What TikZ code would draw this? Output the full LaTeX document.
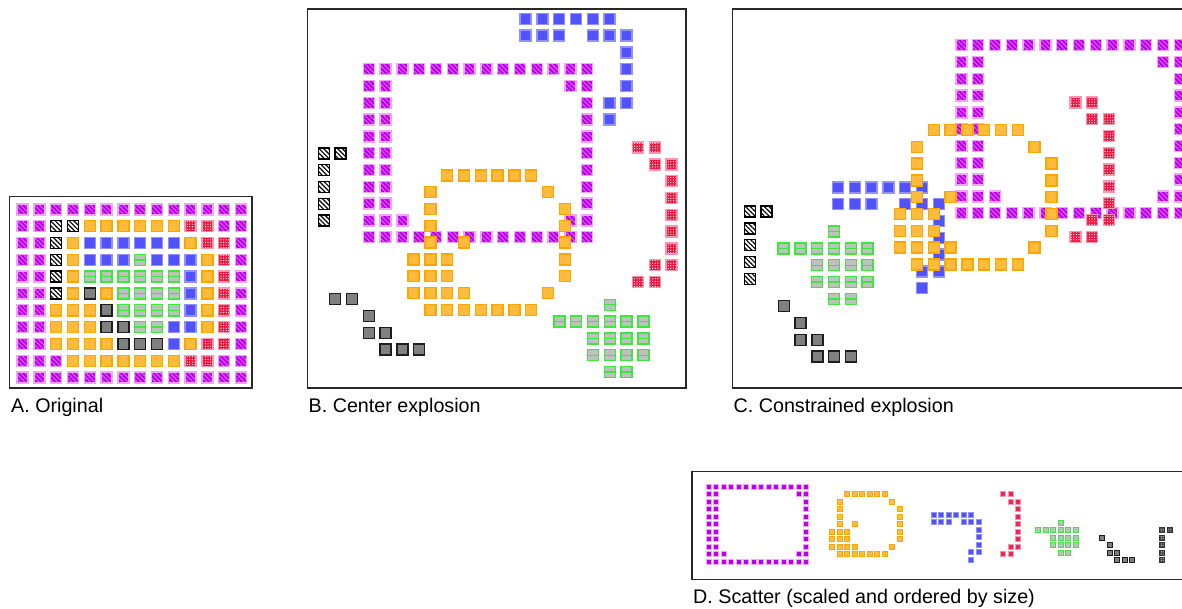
\documentclass[tikz,border=0pt]{standalone}
\usepackage{fontspec}
\setmainfont{Liberation Sans}
\usetikzlibrary{patterns.meta}
\definecolor{Pfill}{RGB}{185,0,235}
\definecolor{Pline}{RGB}{222,90,246}
\definecolor{Pedge}{RGB}{240,165,250}
\definecolor{Ofill}{RGB}{255,187,60}
\definecolor{Oedge}{RGB}{255,165,0}
\definecolor{Bfill}{RGB}{82,82,250}
\definecolor{Bedge}{RGB}{145,145,255}
\definecolor{Rfill}{RGB}{238,20,62}
\definecolor{Redge}{RGB}{250,150,175}
\definecolor{Gfill}{RGB}{192,192,192}
\definecolor{Gedge}{RGB}{60,232,60}
\definecolor{Dfill}{RGB}{128,128,128}
\definecolor{Dedge}{RGB}{30,30,30}
\definecolor{frame}{RGB}{40,40,40}
\tikzset{
  big/.style={line width=1.4pt},
  small/.style={line width=0.8pt},
  cellP/.style={draw=Pedge, preaction={fill=Pfill}, pattern={Lines[angle=-45,distance=3.3pt,line width=1.1pt]}, pattern color=Pline},
  cellPs/.style={draw=Pedge, fill=Pfill},
  cellK/.style={draw=black, preaction={fill=white}, pattern={Lines[angle=-45,distance=3.3pt,line width=1.2pt]}, pattern color=black},
  cellKs/.style={draw=black!80, preaction={fill=black!70}, pattern={Dots[distance=2.2pt,radius=0.45pt]}, pattern color=white},
  cellO/.style={draw=Oedge, fill=Ofill},
  cellB/.style={draw=Bedge, fill=Bfill},
  cellR/.style={draw=Redge, preaction={fill=Rfill}, pattern={Dots[distance=2.6pt,radius=0.65pt]}, pattern color=white},
  cellRs/.style={draw=Redge, preaction={fill=Rfill}, pattern={Dots[distance=2pt,radius=0.45pt]}, pattern color=white},
  cellG/.style={draw=Gedge, fill=Gfill},
  cellD/.style={draw=Dedge, fill=Dfill},
  gmid/.style={draw=Gedge, line width=1.3pt},
  panel/.style={draw=frame, line width=1.3pt},
  lab/.style={anchor=base west, inner sep=0pt, font=\fontsize{19.7}{23}\selectfont}
}
% style, origin x, origin y, pitch, half size, list
\newcommand\grp[6]{\foreach \ci/\ri in #6 {\path[#1] ({#2+\ci*#4-#5},{#3+\ri*#4-#5}) rectangle ({#2+\ci*#4+#5},{#3+\ri*#4+#5});}}
\newcommand\grpmid[6]{\foreach \ci/\ri in #6 {\path[#1] ({#2+\ci*#4-#5},{#3+\ri*#4}) -- ({#2+\ci*#4+#5},{#3+\ri*#4});}}
\def\Plist{0/0,1/0,2/0,3/0,4/0,5/0,6/0,7/0,8/0,9/0,10/0,11/0,12/0,13/0,%
0/10,1/10,2/10,3/10,4/10,5/10,6/10,7/10,8/10,9/10,10/10,11/10,12/10,13/10,%
0/1,1/1,12/1,13/1,0/2,1/2,13/2,0/3,1/3,13/3,0/4,1/4,13/4,0/5,1/5,13/5,%
0/6,1/6,13/6,0/7,1/7,13/7,0/8,1/8,13/8,0/9,1/9,2/9,12/9,13/9}
\def\Olist{4/1,5/1,6/1,7/1,8/1,9/1,3/2,10/2,3/3,11/3,3/4,11/4,3/5,5/5,11/5,%
2/6,3/6,4/6,11/6,2/7,3/7,4/7,11/7,2/8,3/8,4/8,5/8,10/8,3/9,4/9,5/9,6/9,7/9,8/9,9/9}
\def\Blist{4/2,5/2,6/2,7/2,8/2,9/2,4/3,5/3,6/3,8/3,9/3,10/3,10/4,10/5,10/6,9/7,10/7,9/8}
\def\Rlist{10/1,11/1,11/2,12/2,12/3,12/4,12/5,12/6,12/7,11/8,12/8,10/9,11/9}
\def\Glist{7/3,4/4,5/4,6/4,7/4,8/4,9/4,6/5,7/5,8/5,9/5,6/6,7/6,8/6,9/6,7/7,8/7}
\def\Dlist{4/5,5/6,5/7,6/7,6/8,7/8,8/8}
\def\DBlist{3/5,4/5,5/6,5/7,6/7,6/8,7/8,8/8}
\def\Klist{2/1,3/1,2/2,2/3,2/4,2/5}
\begin{document}
\begin{tikzpicture}[x=1pt,y=-1pt]
\useasboundingbox (0,0) rectangle (1182,609);
\clip (0,0) rectangle (1182,609);
\fill[white] (0,0) rectangle (1182,609);
% ---------- panel frames ----------
\draw[panel] (9.5,196.5) rectangle (252,388);
\draw[panel] (307.5,9) rectangle (686,388);
\draw[panel] (732.5,9) rectangle (1195,388);
\draw[panel] (692,471.5) rectangle (1195,579.5);
% ---------- A. Original ----------
\def\ax{22.5}\def\ay{209.5}
\grp{cellP,big}{\ax}{\ay}{16.8}{5.5}{\Plist}
\grp{cellK,big}{\ax}{\ay}{16.8}{5.5}{\Klist}
\grp{cellO,big}{\ax}{\ay}{16.8}{5.5}{\Olist}
\grp{cellB,big}{\ax}{\ay}{16.8}{5.5}{\Blist}
\grp{cellR,big}{\ax}{\ay}{16.8}{5.5}{\Rlist}
\grp{cellG,big}{\ax}{\ay}{16.8}{5.5}{\Glist}
\grpmid{gmid}{\ax}{\ay}{16.8}{5.5}{\Glist}
\grp{cellD,big}{\ax}{\ay}{16.8}{5.5}{\Dlist}
% ---------- B. Center explosion ----------
\grp{cellP,big}{368.7}{69.3}{16.8}{5.5}{\Plist}
\grp{cellB,big}{458.3}{-14.8}{16.8}{5.5}{\Blist}
\grp{cellG,big}{492.1}{254.4}{16.8}{5.5}{\Glist}
\grpmid{gmid}{492.1}{254.4}{16.8}{5.5}{\Glist}
\grp{cellD,big}{284.8}{215.2}{16.8}{5.5}{\DBlist}
\grp{cellK,big}{290.2}{136.7}{16.8}{5.5}{\Klist}
\grp{cellO,big}{380}{158.7}{16.8}{5.5}{\Olist}
\grp{cellR,big}{470}{130.9}{16.8}{5.5}{\Rlist}
% ---------- C. Constrained explosion ----------
\grp{cellP,big}{961.3}{45.2}{16.8}{5.5}{\Plist}
\grp{cellB,big}{770.8}{153.9}{16.8}{5.5}{\Blist}
\grp{cellG,big}{716.4}{181.3}{16.8}{5.5}{\Glist}
\grpmid{gmid}{716.4}{181.3}{16.8}{5.5}{\Glist}
\grp{cellD,big}{716.5}{222.2}{16.8}{5.5}{\Dlist}
\grp{cellK,big}{716.1}{194.9}{16.8}{5.5}{\Klist}
\grp{cellO,big}{866.5}{113.2}{16.8}{5.5}{\Olist}
\grp{cellR,big}{907.3}{85.7}{16.8}{5.5}{\Rlist}
% ---------- D. Scatter ----------
\grp{cellPs,small}{708.8}{486.5}{7.5}{2.55}{\Plist}
\grp{cellO,small}{817.2}{486.7}{7.5}{2.55}{\Olist}
\grp{cellB,small}{903.7}{499.8}{7.5}{2.55}{\Blist}
\grp{cellRs,small}{928}{486.7}{7.5}{2.55}{\Rlist}
\grp{cellG,small}{1008}{500}{7.5}{2.55}{\Glist}
\grp{cellD,small}{1072.2}{500.3}{7.5}{2.55}{\Dlist}
\grp{cellKs,small}{1147.2}{522.7}{7.5}{2.55}{\Klist}
% ---------- labels ----------
\node[lab] (la) at (11,412) {A. Original};
\node[lab] (lb) at (308.5,412) {B. Center explosion};
\node[lab] (lc) at (733.5,412) {C. Constrained explosion};
\node[lab] (ld) at (693,603) {D. Scatter (scaled and ordered by size)};
\end{tikzpicture}
\end{document}
